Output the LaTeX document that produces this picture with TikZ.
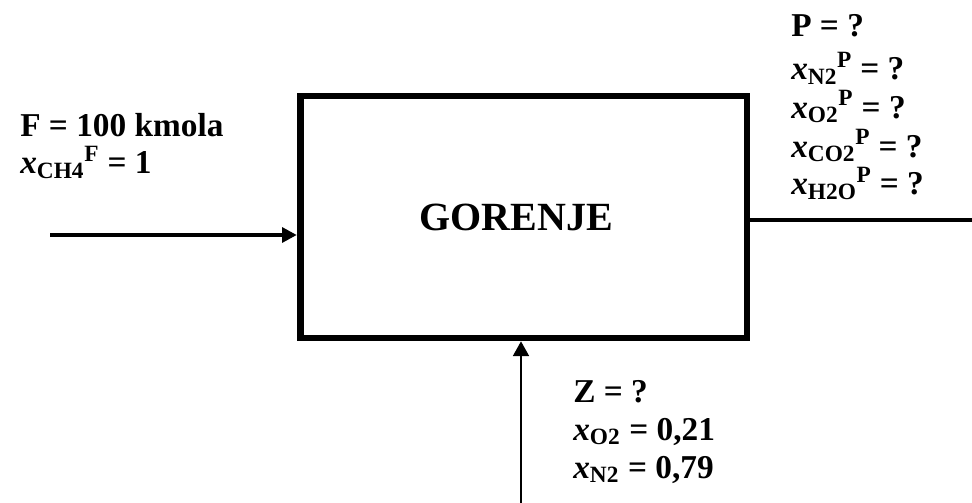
\documentclass[tikz,border=0pt]{standalone}
\usepackage{fontspec}
\setmainfont{Liberation Serif}
\usetikzlibrary{arrows.meta}
\newcommand{\molfrac}[2]{\textit{x}\textsubscript{#1}\textsuperscript{#2}}
\begin{document}
\begin{tikzpicture}[
  x=0.75pt, y=-0.75pt,
  unit/.style={draw, line width=5pt, minimum width=335pt, minimum height=181.5pt,
    inner sep=0pt},
  stream/.style={line width=3pt},
  feedtip/.style={-{Triangle[length=11pt, width=11pt]}},
  tag/.style={anchor=base west, inner sep=0pt, font=\fontsize{25}{30}\selectfont\bfseries},
]
  \useasboundingbox (0,0) rectangle (972,503);

  \node[unit] (gorenje) at (523.5,217) {};
  \node[font=\fontsize{30}{36}\selectfont\bfseries] (naziv) at (516,217) {GORENJE};

  % tokovi
  \coordinate (feed) at (50,235);
  \coordinate (prod) at (972,220);
  \coordinate (air) at (521,503);
  \draw[stream, feedtip] (feed) -- (feed -| gorenje.west);
  \draw[stream] (prod -| gorenje.east) -- (prod);
  \draw[line width=1.1pt, -{Triangle[length=11pt, width=12pt]}] (air) -- (air |- gorenje.south);

  % ulaz F
  \node[tag] (fA) at (20,137) {F = 100 kmola};
  \node[tag] (fB) at (20,174) {\molfrac{CH4}{F} = 1};

  % izlaz P
  \node[tag] (pA) at (791,37) {P = ?};
  \node[tag] (pB) at (791,80) {\molfrac{N2}{P} = ?};
  \node[tag] (pC) at (791,118) {\molfrac{O2}{P} = ?};
  \node[tag] (pD) at (791,157) {\molfrac{CO2}{P} = ?};
  \node[tag] (pE) at (791,195) {\molfrac{H2O}{P} = ?};

  % zrak Z
  \node[tag] (zA) at (573,402) {Z = ?};
  \node[tag] (zB) at (573,440) {\molfrac{O2}{} = 0,21};
  \node[tag] (zC) at (573,478) {\molfrac{N2}{} = 0,79};
\end{tikzpicture}
\end{document}
